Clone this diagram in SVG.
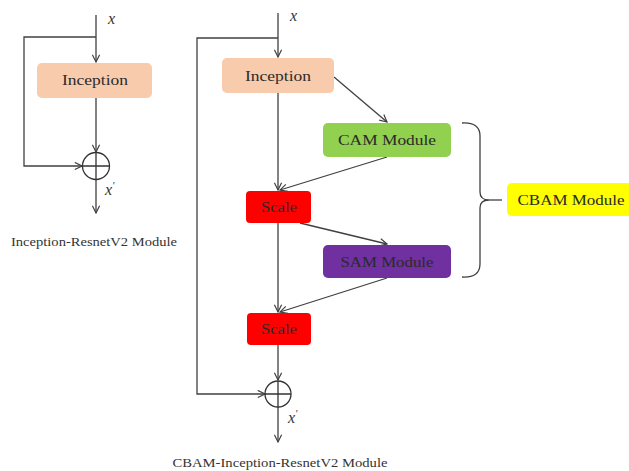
<svg xmlns="http://www.w3.org/2000/svg" width="629" height="471" viewBox="0 0 629 471">
<defs>
<marker id="arr" viewBox="0 0 10 10" refX="9" refY="5" markerWidth="9" markerHeight="9" markerUnits="userSpaceOnUse" orient="auto">
<path d="M1,1 L9,5 L1,9" fill="none" stroke="#404040" stroke-width="1.3"/>
</marker>
</defs>
<style>
.ln{fill:none;stroke:#404040;stroke-width:1.3}
.ar{marker-end:url(#arr)}
.lbl{font-family:"Liberation Serif","Times New Roman",serif;font-size:14px;fill:#2a2a2a;text-anchor:middle;dominant-baseline:central}
.cap{font-family:"Liberation Serif","Times New Roman",serif;font-size:12.5px;fill:#333;text-anchor:middle;dominant-baseline:central}
.var{font-family:"Liberation Serif","Times New Roman",serif;font-style:italic;font-size:16px;fill:#333}
.sum{fill:none;stroke:#333;stroke-width:1.3}
</style>
<rect width="629" height="471" fill="#ffffff"/>

<g id="connectors">
<!-- left module -->
<path class="ln ar" d="M96,15 L96,62"/>
<path class="ln ar" d="M96,37 L24,37 L24,166 L82,166"/>
<path class="ln ar" d="M96,98 L96,152"/>
<path class="ln ar" d="M96,180 L96,213"/>
<!-- right module -->
<path class="ln ar" d="M278,13 L278,57"/>
<path class="ln ar" d="M278,38 L197,38 L197,394 L265,394"/>
<path class="ln ar" d="M278,93 L278,190"/>
<path class="ln ar" d="M334,77 L387,122"/>
<path class="ln ar" d="M387,157 L280,190"/>
<path class="ln ar" d="M300,223 L387,244"/>
<path class="ln ar" d="M278,223 L278,312"/>
<path class="ln ar" d="M387,278 L280,312"/>
<path class="ln ar" d="M278,345 L278,380"/>
<path class="ln ar" d="M278,407 L278,442"/>
<!-- bracket -->
<path class="ln" d="M462,123 Q480,122 480,136 L480,192 Q480,200 489,200 Q480,200 480,208 L480,264 Q480,278 462,277"/>
<path class="ln" d="M489,200 L502,200"/>
</g>

<g id="x-in-left"><text class="var" x="108" y="24">x</text></g>
<g id="x-in-right"><text class="var" x="290" y="21">x</text></g>

<g id="inception-left">
<rect x="37" y="63" width="115" height="35" rx="5" fill="#F8CBAD"/>
<text class="lbl" x="95" y="80" textLength="66" lengthAdjust="spacingAndGlyphs">Inception</text>
</g>

<g id="sum-left">
<circle class="sum" cx="96" cy="166" r="13.5"/>
<path class="sum" d="M82.5,166 L109.5,166 M96,152.5 L96,179.5"/>
<text class="var" x="105" y="195">x<tspan dy="-6" font-size="11">′</tspan></text>
</g>

<g id="caption-left">
<text class="cap" x="94" y="242" textLength="166" lengthAdjust="spacingAndGlyphs">Inception-ResnetV2 Module</text>
</g>

<g id="inception-right">
<rect x="222" y="58" width="112" height="35" rx="5" fill="#F8CBAD"/>
<text class="lbl" x="278" y="76" textLength="66" lengthAdjust="spacingAndGlyphs">Inception</text>
</g>

<g id="cam">
<rect x="323" y="123" width="128" height="34" rx="5" fill="#92D050"/>
<text class="lbl" x="387" y="140" textLength="98" lengthAdjust="spacingAndGlyphs">CAM Module</text>
</g>

<g id="scale1">
<rect x="246" y="191" width="65" height="32" rx="4" fill="#FF0000"/>
<text class="lbl" x="279" y="207" textLength="36" lengthAdjust="spacingAndGlyphs" fill="#3a0000">Scale</text>
</g>

<g id="sam">
<rect x="323" y="245" width="128" height="33" rx="5" fill="#7030A0"/>
<text class="lbl" x="387" y="262" textLength="93" lengthAdjust="spacingAndGlyphs" fill="#2a1a3a">SAM Module</text>
</g>

<g id="scale2">
<rect x="247" y="313" width="64" height="32" rx="4" fill="#FF0000"/>
<text class="lbl" x="279" y="329" textLength="36" lengthAdjust="spacingAndGlyphs" fill="#3a0000">Scale</text>
</g>

<g id="sum-right">
<circle class="sum" cx="278" cy="394" r="13"/>
<path class="sum" d="M265,394 L291,394 M278,381 L278,407"/>
<text class="var" x="288" y="423">x<tspan dy="-6" font-size="11">′</tspan></text>
</g>

<g id="cbam">
<rect x="507" y="183" width="128" height="33" rx="5" fill="#FFFF00"/>
<text class="lbl" x="571" y="200" textLength="107" lengthAdjust="spacingAndGlyphs">CBAM Module</text>
</g>

<g id="caption-right">
<text class="cap" x="280" y="463" textLength="215" lengthAdjust="spacingAndGlyphs">CBAM-Inception-ResnetV2 Module</text>
</g>
</svg>
